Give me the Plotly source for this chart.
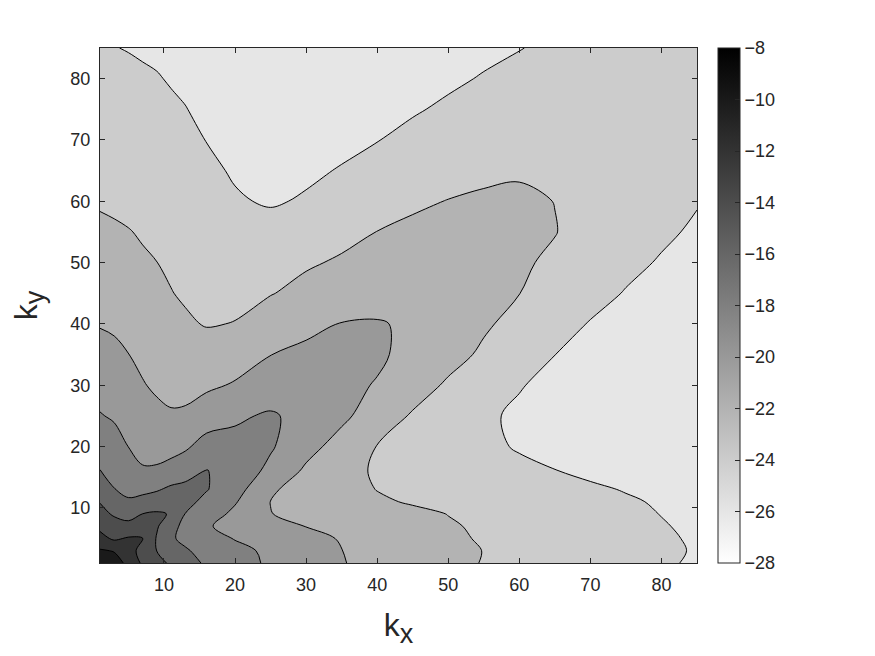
import plotly.graph_objects as go

# grid nodes (kx along columns, ky along rows)
kx = [1, 3, 5, 7, 9, 11, 13, 16, 20, 25, 30, 35, 40, 45, 50, 55, 60, 65, 70, 75, 80, 85]
ky = [1, 3, 5, 7, 9, 11, 13, 16, 20, 25, 30, 35, 40, 45, 50, 55, 60, 65, 70, 75, 80, 85]

# values, one row per ky node
z_ky01 = [-8.5, -9.3, -10.4, -12.35, -13.35, -14.31, -15.2, -16.29, -17.24, -18.29, -19.1, -19.92, -20.49, -21.03, -21.57, -22.07, -22.42, -22.77, -23.12, -23.47, -23.82, -24.17]
z_ky03 = [-9.8, -10.1, -11.3, -12.6, -14.03, -14.92, -15.82, -16.57, -17.44, -18.39, -19.2, -19.98, -20.51, -21.03, -21.54, -22.03, -22.38, -22.72, -23.07, -23.41, -23.76, -24.1]
z_ky05 = [-11.4, -12.3, -11.8, -11.95, -14.16, -15.8, -16.38, -17.16, -18.1, -18.79, -19.47, -20.12, -20.65, -21.18, -21.71, -22.15, -22.48, -22.82, -23.15, -23.48, -23.82, -24.15]
z_ky07 = [-12.45, -13.3, -13.6, -12.67, -13.8, -15.38, -16.53, -17.85, -18.51, -19.29, -20.04, -20.49, -20.94, -21.4, -21.85, -22.22, -22.56, -22.9, -23.24, -23.58, -23.91, -24.25]
z_ky09 = [-13.5, -14.2, -14.5, -13.98, -13.8, -14.1, -16.04, -17.09, -18.41, -19.97, -20.37, -20.79, -21.21, -21.62, -22.03, -22.36, -22.69, -23.03, -23.36, -23.69, -24.03, -24.3]
z_ky11 = [-14.07, -15.04, -15.8, -15.4, -14.9, -14.6, -15.4, -16.53, -17.84, -20.02, -20.6, -21.18, -21.76, -22.16, -22.44, -22.72, -23.0, -23.28, -23.55, -23.83, -24.15, -24.4]
z_ky13 = [-14.9, -15.95, -16.4, -16.47, -16.2, -15.6, -15.5, -15.9, -17.2, -19.8, -20.62, -21.36, -22.04, -22.33, -22.62, -22.91, -23.19, -23.48, -23.77, -24.08, -24.4, -24.6]
z_ky16 = [-15.95, -16.6, -17.07, -17.85, -17.8, -17.4, -16.7, -15.9, -16.85, -18.45, -20.34, -21.47, -22.19, -22.54, -22.9, -23.25, -23.61, -23.96, -24.3, -24.5, -24.6, -24.7]
z_ky20 = [-16.82, -17.3, -18.02, -18.45, -18.55, -18.56, -18.3, -17.2, -17.4, -17.8, -19.32, -20.78, -22.05, -22.55, -23.08, -23.62, -24.15, -24.5, -24.7, -24.8, -24.9, -25.0]
z_ky25 = [-17.9, -18.2, -18.67, -19.14, -19.6, -19.85, -19.7, -19.03, -18.3, -17.75, -18.68, -19.57, -21.03, -22.18, -22.95, -23.71, -24.3, -24.7, -24.9, -25.0, -25.1, -25.1]
z_ky30 = [-18.67, -18.91, -19.33, -19.9, -20.25, -20.41, -20.6, -20.3, -19.85, -19.3, -19.0, -19.6, -20.1, -21.2, -22.24, -23.07, -23.89, -24.5, -24.8, -25.0, -25.1, -25.1]
z_ky35 = [-19.4, -19.6, -19.98, -20.36, -20.68, -20.9, -21.15, -21.2, -20.8, -20.02, -19.65, -19.5, -19.75, -20.48, -21.39, -22.28, -23.13, -23.99, -24.4, -24.7, -24.9, -25.0]
z_ky40 = [-20.1, -20.26, -20.5, -20.82, -21.12, -21.41, -21.78, -22.1, -21.95, -21.06, -20.4, -19.95, -19.9, -20.2, -21.07, -21.77, -22.53, -23.31, -24.1, -24.5, -24.7, -24.9]
z_ky45 = [-20.63, -20.79, -21.0, -21.3, -21.6, -21.95, -22.19, -22.38, -22.4, -22.08, -21.5, -20.8, -20.6, -20.8, -21.2, -21.6, -21.98, -22.67, -23.39, -24.1, -24.4, -24.6]
z_ky50 = [-21.17, -21.4, -21.64, -21.85, -21.99, -22.23, -22.49, -22.71, -22.85, -22.74, -22.2, -21.8, -21.26, -21.2, -21.45, -21.6, -21.8, -22.25, -22.86, -23.56, -24.15, -24.5]
z_ky55 = [-21.7, -21.82, -21.95, -22.11, -22.3, -22.54, -22.78, -23.04, -23.3, -23.4, -22.97, -22.47, -21.98, -21.7, -21.6, -21.6, -21.7, -21.95, -22.61, -23.23, -23.7, -24.25]
z_ky60 = [-22.15, -22.24, -22.32, -22.45, -22.63, -22.86, -23.08, -23.38, -23.85, -24.15, -23.85, -23.19, -22.68, -22.23, -21.96, -21.8, -21.75, -22.02, -22.55, -23.0, -23.5, -23.9]
z_ky65 = [-22.48, -22.56, -22.67, -22.8, -22.95, -23.17, -23.37, -23.71, -24.15, -24.4, -24.25, -23.91, -23.37, -22.88, -22.55, -22.28, -22.15, -22.35, -22.65, -22.95, -23.3, -23.55]
z_ky70 = [-22.8, -22.9, -23.03, -23.14, -23.27, -23.48, -23.67, -24.03, -24.45, -24.7, -24.6, -24.35, -24.05, -23.53, -23.14, -22.8, -22.62, -22.7, -22.85, -23.05, -23.3, -23.55]
z_ky75 = [-23.15, -23.25, -23.37, -23.48, -23.6, -23.79, -23.96, -24.3, -24.7, -24.95, -24.9, -24.75, -24.55, -24.17, -23.72, -23.35, -23.1, -23.0, -23.05, -23.2, -23.4, -23.5]
z_ky80 = [-23.47, -23.6, -23.72, -23.82, -23.92, -24.1, -24.25, -24.55, -24.9, -25.1, -25.15, -25.05, -24.9, -24.6, -24.3, -23.88, -23.55, -23.3, -23.3, -23.35, -23.45, -23.5]
z_ky85 = [-23.8, -23.97, -24.05, -24.15, -24.25, -24.4, -24.5, -24.75, -25.0, -25.2, -25.3, -25.25, -25.15, -25.0, -24.75, -24.4, -24.05, -23.7, -23.55, -23.5, -23.5, -23.5]

axis_ticks = [10, 20, 30, 40, 50, 60, 70, 80]
cbar_ticks = [-28, -26, -24, -22, -20, -18, -16, -14, -12, -10, -8]

z = [z_ky01, z_ky03, z_ky05, z_ky07, z_ky09, z_ky11, z_ky13, z_ky16, z_ky20, z_ky25, z_ky30,
     z_ky35, z_ky40, z_ky45, z_ky50, z_ky55, z_ky60, z_ky65, z_ky70, z_ky75, z_ky80, z_ky85]

FONT = "Liberation Sans, Arial, sans-serif"
INK = "#262626"

fig = go.Figure()

# filled contours, each band shaded with the gray of its lower level
fig.add_trace(go.Contour(
    x=kx, y=ky, z=z,
    autocontour=False,
    contours=dict(start=-26, end=-10, size=2, coloring="fill", showlines=True),
    colorscale=[[0, "rgb(255,255,255)"], [1, "rgb(26,26,26)"]],
    line=dict(color="black", width=1, smoothing=1),
    showscale=False,
    hoverinfo="skip",
))

# continuous gray colorbar (-28 white .. -8 black)
fig.add_trace(go.Scatter(
    x=[None], y=[None], mode="markers", showlegend=False, hoverinfo="skip",
    marker=dict(
        color=[-28], cmin=-28, cmax=-8,
        colorscale=[[0, "rgb(255,255,255)"], [1, "rgb(0,0,0)"]],
        showscale=True,
        colorbar=dict(
            x=1.035, xanchor="left", xpad=0,
            y=0.5, yanchor="middle", ypad=0,
            len=1, lenmode="fraction", thickness=22,
            outlinewidth=1, outlinecolor=INK,
            tickvals=cbar_ticks, ticks="inside", ticklen=5, tickcolor=INK,
            tickfont=dict(family=FONT, size=18, color=INK),
        ),
    ),
))

axis_style = dict(
    tickvals=axis_ticks, ticks="inside", ticklen=5, tickcolor=INK,
    showline=True, linecolor=INK, linewidth=1, mirror="ticks",
    showgrid=False, zeroline=False, automargin=False, ticklabelstandoff=5,
    tickfont=dict(family=FONT, size=18, color=INK),
)

# the page body adds an 8px offset, so margins are pulled in by that much
fig.update_layout(
    width=875, height=656,
    margin=dict(l=92, r=186, t=40, b=101, autoexpand=False),
    paper_bgcolor="white", plot_bgcolor="white",
    font=dict(family=FONT, color=INK),
    xaxis=dict(range=[1, 85],
               title=dict(text="k<sub><span style='font-size:27px'>x</span></sub>",
                          font=dict(family=FONT, size=32, color=INK), standoff=20),
               **axis_style),
    yaxis=dict(range=[1, 85],
               title=dict(text="k<sub><span style='font-size:27px'>y</span></sub>",
                          font=dict(family=FONT, size=32, color=INK), standoff=26),
               **axis_style),
)

fig.write_html("out.html")
